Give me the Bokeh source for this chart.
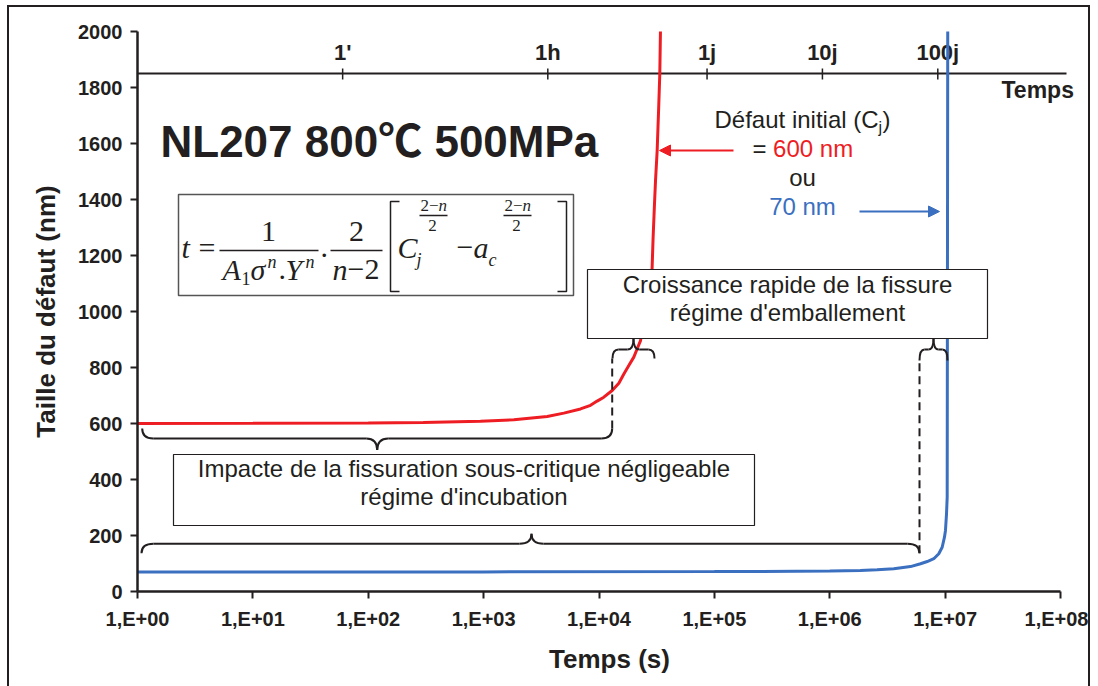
import math
from bokeh.plotting import figure
from bokeh.models import FixedTicker, Arrow, NormalHead, ColumnDataSource
from bokeh.embed import file_html
from bokeh.resources import INLINE
from bokeh.core.properties import value

# ---------------- data ----------------
red_t = [1, 10, 100, 300, 939, 1828, 3556, 4955, 6915, 8440, 9640, 11010, 13010, 14860,
         16420, 18130, 20030, 21430, 22910, 28840, 29450, 30270, 30900, 31930, 32990, 33650, 34130]
red_a = [600, 600.5, 602, 604, 608, 613, 625, 637, 652, 665, 680, 694, 718, 744,
         777, 807, 837, 867, 896, 1152, 1265, 1385, 1468, 1575, 1741, 1849, 2015]

blue_t = [1, 1e3, 1e5, 1e6, 1.84e6, 2.57e6, 3.59e6, 5.01e6, 6.12e6, 7.0e6, 7.98e6, 8.81e6,
          9.43e6, 9.87e6, 1.007e7, 1.028e7, 1.042e7, 1.054e7]
blue_a = [70, 70, 71, 73, 75, 77.5, 81, 89, 99, 107, 117, 135,
          158, 194, 218, 277, 337, 2050]

x_ticks = [1, 10, 100, 1000, 10000, 100000, 1000000, 10000000, 100000000]
x_tick_labels = ["1,E+00", "1,E+01", "1,E+02", "1,E+03", "1,E+04", "1,E+05", "1,E+06", "1,E+07", "1,E+08"]
y_ticks = [0, 200, 400, 600, 800, 1000, 1200, 1400, 1600, 1800, 2000]

top_ticks = [60, 3600, 86400, 864000, 8640000]      # 1 min, 1 h, 1 j, 10 j, 100 j
top_labels = ["1'", "1h", "1j", "10j", "100j"]
top_axis_level = 1850

# ---------------- layout / style ----------------
INK = "#231f20"
RED = "#ee1d23"
BLUE = "#3b6fbf"
SANS = "Liberation Sans"
SERIF = "Liberation Serif"

OX, OY = 9, 7                        # canvas origin on the page (margin + border)
FL, FT = 128, 24                     # frame offset inside canvas
FH = 560
DEC = 923 / 8                        # px per decade
FW = 944                             # frame a bit wider than 1E+08 (room for "Temps")
W, H = 1079, 679
X_LO, Y_LO, Y_HI = 1, 0, 2000
X_HI_VIEW = 10 ** (FW / DEC)
K = 0.37                              # baseline correction factor for svg text


def X(px):
    return 10 ** ((px - OX - FL) / DEC)


def Y(py):
    return Y_LO + (OY + FT + FH - py) / FH * (Y_HI - Y_LO)


def YB(py, size):
    """data y for a text whose alphabetic baseline sits at page pixel py"""
    return Y(py - K * size)


p = figure(frame_width=FW, frame_height=FH, x_axis_type="log",
           x_range=(X_LO, X_HI_VIEW), y_range=(Y_LO, Y_HI),
           output_backend="svg", toolbar_location=None,
           min_border_left=FL, min_border_top=FT,
           min_border_right=W - FL - FW, min_border_bottom=H - FT - FH)
p.styles = {"border": f"2px solid {INK}", "border-bottom": "none",
            "margin": "5px 0px 0px 7px"}
p.outline_line_color = None
p.xgrid.visible = False
p.ygrid.visible = False
p.background_fill_color = "white"
p.border_fill_color = "white"

for ax in (p.xaxis[0], p.yaxis[0]):
    ax.axis_line_color = INK
    ax.axis_line_width = 2.5
    ax.major_tick_line_color = INK
    ax.major_tick_line_width = 2
    ax.major_tick_out = 7
    ax.major_tick_in = 0
    ax.minor_tick_line_color = None
    ax.major_label_text_font = SANS
    ax.major_label_text_font_style = "bold"
    ax.major_label_text_font_size = "20px"
    ax.major_label_text_color = INK
    ax.axis_label_text_font = SANS
    ax.axis_label_text_font_style = "bold"
    ax.axis_label_text_font_size = "26px"
    ax.axis_label_text_color = INK

p.xaxis.bounds = (x_ticks[0], x_ticks[-1])
p.xaxis.ticker = FixedTicker(ticks=x_ticks, minor_ticks=[])
p.xaxis.major_label_overrides = {t: l for t, l in zip(x_ticks, x_tick_labels)}
p.xaxis.major_label_standoff = 9
p.xaxis.axis_label = "Temps (s)"
p.xaxis.axis_label_standoff = 11

p.yaxis.ticker = FixedTicker(ticks=y_ticks, minor_ticks=[])
p.yaxis.major_label_standoff = 8
p.yaxis.axis_label = "Taille du défaut (nm)"
p.yaxis.axis_label_standoff = 14

# secondary time axis (line at 1850 nm)
p.segment(x0=[X_LO], y0=[top_axis_level], x1=[X(1066)], y1=[top_axis_level],
          line_color=INK, line_width=2)
p.segment(x0=top_ticks, y0=[top_axis_level + 18] * len(top_ticks),
          x1=top_ticks, y1=[top_axis_level - 21] * len(top_ticks),
          line_color=INK, line_width=1.5)
p.text(x=top_ticks, y=[YB(60.5, 22)] * len(top_ticks), text=top_labels,
       text_font=value(SANS), text_font_style="bold", text_font_size="22px",
       text_color=INK, text_align="center", text_baseline="alphabetic")
p.text(x=[X(1001)], y=[YB(98.5, 23)], text=["Temps"], text_font=value(SANS),
       text_font_style="bold", text_font_size="23px", text_color=INK,
       text_align="left", text_baseline="alphabetic")

# curves
p.line(red_t, red_a, line_color=RED, line_width=3)
p.line(blue_t, blue_a, line_color=BLUE, line_width=3)

# title
p.text(x=[X(160)], y=[YB(157, 44)], text=["NL207 800℃ 500MPa"],
       text_font=value("Liberation Sans, Noto Sans CJK SC"), text_font_style="bold",
       text_font_size="44px", text_color=INK, text_align="left", text_baseline="alphabetic")

# ---------- formula box ----------
p.quad(left=[X(178)], right=[X(573)], top=[Y(194)], bottom=[Y(295)],
       fill_color="white", line_color="#555555", line_width=1.5)

pieces = [
    ("t", 181, 258, 30, "italic", "left"),
    ("=", 198, 258, 30, "normal", "left"),
    ("1", 268, 242, 30, "normal", "center"),
    ("A", 222, 280, 30, "italic", "left"),
    ("1", 241, 285, 18, "normal", "left"),
    ("σ", 250, 280, 30, "italic", "left"),
    ("n", 267, 268, 18, "italic", "left"),
    (".", 278, 280, 30, "normal", "left"),
    ("Y", 285, 280, 30, "italic", "left"),
    ("n", 305, 268, 18, "italic", "left"),
    (".", 320, 258, 30, "normal", "left"),
    ("2", 356, 242, 30, "normal", "center"),
    ("n", 332, 280, 30, "italic", "left"),
    ("−2", 347, 280, 30, "normal", "left"),
    ("C", 397, 258, 30, "italic", "left"),
    ("j", 416, 266, 18, "italic", "left"),
    ("2−", 420, 211, 17, "normal", "left"),
    ("n", 438, 211, 17, "italic", "left"),
    ("2", 432, 231, 17, "normal", "center"),
    ("−", 456, 258, 30, "normal", "left"),
    ("a", 473, 258, 30, "italic", "left"),
    ("c", 488, 266, 18, "italic", "left"),
    ("2−", 504, 211, 17, "normal", "left"),
    ("n", 522, 211, 17, "italic", "left"),
    ("2", 516, 231, 17, "normal", "center"),
]
fsrc = ColumnDataSource(dict(
    x=[X(a[1]) for a in pieces], y=[YB(a[2], a[3]) for a in pieces],
    text=[a[0] for a in pieces], size=[f"{a[3]}px" for a in pieces],
    style=[a[4] for a in pieces], align=[a[5] for a in pieces]))
p.text(x="x", y="y", text="text", source=fsrc, text_font=value(SERIF),
       text_font_size="size", text_font_style="style", text_align="align",
       text_baseline="alphabetic", text_color=INK)

bars = [(219, 318, 250), (330, 382, 250), (419, 447, 215), (503, 531, 215)]
p.segment(x0=[X(b[0]) for b in bars], x1=[X(b[1]) for b in bars],
          y0=[Y(b[2]) for b in bars], y1=[Y(b[2]) for b in bars],
          line_color=INK, line_width=1.3)
brk = [
    ([399, 390, 390, 399], [201, 201, 291, 291]),
    ([557, 566, 566, 557], [201, 201, 291, 291]),
]
p.multi_line(xs=[[X(v) for v in b[0]] for b in brk], ys=[[Y(v) for v in b[1]] for b in brk],
             line_color=INK, line_width=1.5)

# ---------- annotation boxes ----------
p.quad(left=[X(587), X(173)], right=[X(987), X(754)], top=[Y(269), Y(454)],
       bottom=[Y(338), Y(525)], fill_color="white", line_color=INK, line_width=1.2)

box_text = [
    ("Croissance rapide de la fissure", 787, 292.7),
    ("régime d'emballement", 787, 320.7),
    ("Impacte de la fissuration sous-critique négligeable", 463.5, 477),
    ("régime d'incubation", 463.5, 505),
]
p.text(x=[X(b[1]) for b in box_text], y=[YB(b[2], 24) for b in box_text],
       text=[b[0] for b in box_text], text_font=value(SANS), text_font_size="24px",
       text_color=INK, text_align="center", text_baseline="alphabetic")

# ---------- braces ----------
def brace(xa, xb, xt, ye, ym, yt, r):
    quads = [
        (xa, ye, xa + r, ym, xa, ym),
        (xt - r, ym, xt, yt, xt, ym),
        (xt, yt, xt + r, ym, xt, ym),
        (xb - r, ym, xb, ye, xb, ym),
    ]
    segs = [(xa + r, ym, xt - r, ym), (xt + r, ym, xb - r, ym)]
    return quads, segs


all_q, all_s = [], []
for args in [(141.7, 611.7, 376.7, 428, 438, 449.5, 11),
             (141, 919, 531, 552.7, 543.3, 533.3, 12),
             (612, 654, 633, 358, 349, 338, 6),
             (919, 947, 933, 360, 349, 338, 5)]:
    q, s = brace(*args)
    all_q += q
    all_s += s

p.quadratic(x0=[X(q[0]) for q in all_q], y0=[Y(q[1]) for q in all_q],
            x1=[X(q[2]) for q in all_q], y1=[Y(q[3]) for q in all_q],
            cx=[X(q[4]) for q in all_q], cy=[Y(q[5]) for q in all_q],
            line_color=INK, line_width=2)
p.segment(x0=[X(s[0]) for s in all_s], y0=[Y(s[1]) for s in all_s],
          x1=[X(s[2]) for s in all_s], y1=[Y(s[3]) for s in all_s],
          line_color=INK, line_width=2)

p.segment(x0=[X(611.7), X(919)], y0=[Y(428), Y(552.7)], x1=[X(611.7), X(919)], y1=[Y(358), Y(360)],
          line_color=INK, line_width=2, line_dash="8 5")

# ---------- initial defect annotation ----------
ann = [
    ("Défaut initial (C", 714, 128.3, 24, INK, "left"),
    ("j", 878, 133, 16, INK, "left"),
    (")", 882, 128.3, 24, INK, "left"),
    ("=", 752, 157.3, 24, INK, "left"),
    ("600 nm", 772.6, 157.3, 24, RED, "left"),
    ("ou", 802, 185.7, 24, INK, "center"),
    ("70 nm", 802, 215, 24, BLUE, "center"),
]
asrc = ColumnDataSource(dict(
    x=[X(a[1]) for a in ann], y=[YB(a[2], a[3]) for a in ann], text=[a[0] for a in ann],
    size=[f"{a[3]}px" for a in ann], color=[a[4] for a in ann], align=[a[5] for a in ann]))
p.text(x="x", y="y", text="text", source=asrc, text_font=value(SANS),
       text_font_size="size", text_color="color", text_align="align",
       text_baseline="alphabetic")

p.add_layout(Arrow(end=NormalHead(size=11, fill_color=RED, line_color=RED),
                   x_start=X(733), y_start=Y(150), x_end=X(659), y_end=Y(150),
                   line_color=RED, line_width=2))
p.add_layout(Arrow(end=NormalHead(size=11, fill_color=BLUE, line_color=BLUE),
                   x_start=X(859), y_start=Y(211), x_end=X(939), y_end=Y(211),
                   line_color=BLUE, line_width=2))

open("out.html", "w").write(file_html(p, INLINE))
